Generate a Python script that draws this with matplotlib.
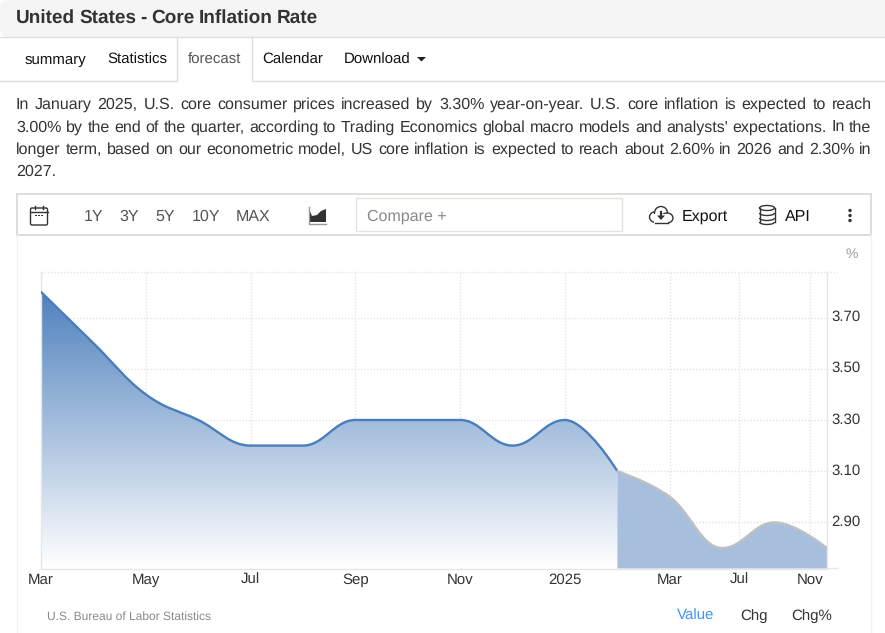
import numpy as np
import matplotlib
matplotlib.use('Agg')
import matplotlib.pyplot as plt
from matplotlib.colors import LinearSegmentedColormap
from matplotlib.patches import Rectangle, FancyBboxPatch, Ellipse, Polygon, Circle, PathPatch, Arc
from matplotlib.path import Path
from matplotlib.transforms import ScaledTranslation

plt.rcParams['font.family'] = ['Liberation Sans', 'DejaVu Sans']
plt.rcParams['text.hinting'] = 'no_hinting'
plt.rcParams['text.hinting_factor'] = 1

# history is monthly, forecast is quarterly and the axis is by category
history_pos = list(range(12))
history_values = [3.8, 3.6, 3.4, 3.3, 3.2, 3.2, 3.3, 3.3, 3.3, 3.2, 3.3, 3.1]
forecast_pos = [11, 12, 13, 14, 15]
forecast_values = [3.1, 3.0, 2.8, 2.9, 2.8]

x_ticks = [0, 2, 4, 6, 8, 10, 12, 13.33, 14.67]
x_labels = ['Mar', 'May', 'Jul', 'Sep', 'Nov', '2025', 'Mar', 'Jul', 'Nov']
y_ticks = [2.9, 3.1, 3.3, 3.5, 3.7]
y_labels = ['2.90', '3.10', '3.30', '3.50', '3.70']

title = 'United States - Core Inflation Rate'
tabs = [('summary', 25), ('Statistics', 107.5), ('forecast', 188), ('Calendar', 262.5), ('Download', 344)]
ranges = [('1Y', 84), ('3Y', 119.5), ('5Y', 155), ('10Y', 192), ('MAX', 236)]
body_lines = [
    'In January 2025, U.S. core consumer prices increased by 3.30% year-on-year. U.S. core inflation is expected to reach',
    "3.00% by the end of the quarter, according to Trading Economics global macro models and analysts' expectations. In the",
    'longer term, based on our econometric model, US core inflation is expected to reach about 2.60% in 2026 and 2.30% in',
    '2027.',
]


def px(n):
    return n * 0.72


def spline_path(xs, ys):
    # same smoothing as the highcharts spline
    left = [None] * len(xs)
    right = [None] * len(xs)
    for i in range(1, len(xs) - 1):
        x, y = xs[i], ys[i]
        lx, ly = xs[i - 1], ys[i - 1]
        nx, ny = xs[i + 1], ys[i + 1]
        lcx = (1.5 * x + lx) / 2.5
        lcy = (1.5 * y + ly) / 2.5
        rcx = (1.5 * x + nx) / 2.5
        rcy = (1.5 * y + ny) / 2.5
        corr = (rcy - lcy) * (rcx - x) / (rcx - lcx) + y - rcy
        lcy += corr
        rcy += corr
        if lcy > ly and lcy > y:
            lcy = max(ly, y)
            rcy = 2 * y - lcy
        elif lcy < ly and lcy < y:
            lcy = min(ly, y)
            rcy = 2 * y - lcy
        if rcy > ny and rcy > y:
            rcy = max(ny, y)
            lcy = 2 * y - rcy
        elif rcy < ny and rcy < y:
            rcy = min(ny, y)
            lcy = 2 * y - rcy
        left[i] = (lcx, lcy)
        right[i] = (rcx, rcy)
    verts = [(xs[0], ys[0])]
    codes = [Path.MOVETO]
    for i in range(1, len(xs)):
        c1 = right[i - 1] or (xs[i - 1], ys[i - 1])
        c2 = left[i] or (xs[i], ys[i])
        verts += [c1, c2, (xs[i], ys[i])]
        codes += [Path.CURVE4] * 3
    return verts, codes


def area_path(xs, ys, base):
    verts, codes = spline_path(xs, ys)
    verts = verts + [(xs[-1], base), (xs[0], base), (xs[0], ys[0])]
    codes = codes + [Path.LINETO, Path.LINETO, Path.CLOSEPOLY]
    return Path(verts, codes)


def fitted_line(text, x, y, width, size, **kw):
    # browser justify: words go one by one, the gaps take up the slack
    words = text.split(' ')
    sizes = []
    for w in words:
        t = page.text(0, 0, w, fontsize=px(size), **kw)
        sizes.append(t.get_window_extent(renderer).width)
        t.remove()
    gap = (width - sum(sizes)) / (len(words) - 1) if len(words) > 1 else 0
    for w, s in zip(words, sizes):
        page.text(x, y, w, fontsize=px(size), va='baseline', **kw)
        x += s + gap


fig = plt.figure(figsize=(8.85, 6.33), dpi=100)

# page furniture, in pixels
page = fig.add_axes([0, 0, 1, 1])
page.set_xlim(0, 885)
page.set_ylim(633, 0)
page.axis('off')
fig.canvas.draw()
renderer = fig.canvas.get_renderer()

border = '#dddddd'
page.add_patch(FancyBboxPatch((0, 0), 905, 37, boxstyle='round,pad=0,rounding_size=8', fc='#f5f5f5', ec='none'))
page.plot([0, 885], [37, 37], color=border, lw=1)
fitted_line(title, 16, 23, 302, 18.7, fontweight='bold', color='#333333')

page.plot([0, 177, 177], [81, 81, 37], color=border, lw=1)
page.plot([252, 252, 885], [37, 81, 81], color=border, lw=1)
for label, x in tabs:
    page.text(x, 64, label, fontsize=px(15), va='baseline', color='#555555' if label == 'forecast' else '#111111')
page.add_patch(Polygon([(417, 57), (426, 57), (421.5, 61.5)], fc='#222222', ec='none'))

for n, line in enumerate(body_lines):
    fitted_line(line, 16, 109 + n * 22.4, 855.5, 16, color='#333333')

# toolbar
page.plot([17, 17], [235, 633], color='#f2f2f2', lw=1)
page.plot([871, 871], [235, 633], color='#f2f2f2', lw=1)
page.add_patch(Rectangle((17, 194), 854, 41, fc='white', ec='#dedede', lw=1.4))
page.add_patch(Rectangle((356, 198), 266, 33, fc='white', ec='#e4e4dc', lw=1))
for label, x in ranges:
    page.text(x, 221, label, fontsize=px(16.2), color='#555555', va='baseline')
page.text(367, 221, 'Compare +', fontsize=px(16.2), color='#888888', va='baseline')
page.text(682, 221, 'Export', fontsize=px(15.8), color='#111111', va='baseline')
page.text(785, 221, 'API', fontsize=px(15.8), color='#111111', va='baseline')

# calendar icon
page.add_patch(FancyBboxPatch((30.5, 208), 17, 17, boxstyle='round,pad=0,rounding_size=1.5', fc='none', ec='#333333', lw=1))
page.plot([30.5, 47.5], [212, 212], color='#333333', lw=1)
page.plot([35, 35], [206, 209], color='#333333', lw=1)
page.plot([43, 43], [206, 209], color='#333333', lw=1)
for x in [36, 39, 42]:
    page.add_patch(Rectangle((x - 0.6, 215), 1.3, 1.3, fc='#333333', ec='none'))

# area icon
page.add_patch(Polygon([(309, 209), (312, 216), (317, 215), (321, 211), (326, 209), (326, 222), (309, 222)], fc='#333333', ec='none'))
page.plot([308.5, 308.5, 326], [207, 223.5, 223.5], color='#999999', lw=1)

# cloud icon
for patch in [Ellipse((656, 217), 13, 11), Circle((661, 213), 6.5), Ellipse((667, 218), 12, 10)]:
    patch.set(fc='white', ec='#333333', lw=1)
    page.add_patch(patch)
page.add_patch(Rectangle((654, 214), 14, 8.5, fc='white', ec='none'))
page.plot([655, 668], [223, 223], color='#333333', lw=1)
page.plot([661, 661], [212, 216], color='#333333', lw=1.6)
page.add_patch(Polygon([(657, 215.5), (665, 215.5), (661, 220)], fc='#333333', ec='none'))

# database icon
page.plot([759.5, 759.5], [208, 222], color='#333333', lw=1)
page.plot([774.5, 774.5], [208, 222], color='#333333', lw=1)
page.add_patch(Ellipse((767, 208), 15, 5, fc='none', ec='#333333', lw=1))
for y in [213, 218, 222]:
    page.add_patch(Arc((767, y), 15, 5, theta1=0, theta2=180, ec='#333333', lw=1))
for y in [210.5, 215.5, 220.5]:
    page.add_patch(Circle((850, y), 1.7, fc='#333333', ec='none'))

page.text(846, 258, '%', fontsize=px(14), color='#999999', va='baseline')
page.text(47, 620, 'U.S. Bureau of Labor Statistics', fontsize=px(12), color='#8a8a8a', va='baseline')
page.text(677, 620, 'Value', fontsize=px(15), color='#3d95ee', va='baseline')
page.text(740, 620, 'Chg', fontsize=px(15), color='#333333', va='baseline')
page.text(791, 620, 'Chg%', fontsize=px(15), color='#333333', va='baseline')

# chart
ax = fig.add_axes([41 / 885, (633 - 568.5) / 633, 786 / 885, 296 / 633])
ax.patch.set_alpha(0)
y_bottom, y_top = 2.72, 3.876
ax.set_xlim(0, 15)
ax.set_ylim(y_bottom, y_top)

grid = '#e4e4e4'
ax.hlines(y_ticks + [y_top], 0, 15.19, color=grid, lw=1, linestyles=(0, (1, 1.3)), clip_on=False, zorder=1)
ax.vlines(x_ticks, y_bottom, y_top, color=grid, lw=1, linestyles=(0, (1, 1.3)), zorder=1)

top_color = '#4f81bd'
cmap = LinearSegmentedColormap.from_list('hist', ['#ffffff', top_color])
gradient = np.linspace(0, 1, 256).reshape(-1, 1)
img = ax.imshow(gradient, cmap=cmap, origin='lower', aspect='auto', zorder=2,
                extent=(0, 11, y_bottom, max(history_values)))
img.set_clip_path(PathPatch(area_path(history_pos, history_values, y_bottom), transform=ax.transData))
ax.add_patch(PathPatch(area_path(forecast_pos, forecast_values, y_bottom), fc='#a7bfdd', ec='none', zorder=2))

verts, codes = spline_path(history_pos, history_values)
ax.add_patch(PathPatch(Path(verts, codes), fc='none', ec='#4a7dbb', lw=1.7, zorder=3, capstyle='round'))
verts, codes = spline_path(forecast_pos, forecast_values)
ax.add_patch(PathPatch(Path(verts, codes), fc='none', ec='#c0c0c0', lw=1.7, zorder=3, capstyle='round'))

ax.set_xlim(0, 15)
ax.set_ylim(y_bottom, y_top)
ax.set_xticks(x_ticks, x_labels)
ax.yaxis.tick_right()
ax.set_yticks(y_ticks, y_labels)
ax.tick_params(axis='x', length=0, pad=3, labelsize=px(15), labelcolor='#333333')
ax.tick_params(axis='y', length=0, pad=3, labelsize=px(15.4), labelcolor='#333333')
# the value labels sit a little above their gridlines
up = ScaledTranslation(0, 2 / 100, fig.dpi_scale_trans)
for label in ax.get_yticklabels():
    label.set_transform(label.get_transform() + up)
ax.spines['top'].set_visible(False)
for name in ['left', 'right', 'bottom']:
    ax.spines[name].set_color('#e6e6e6')
    ax.spines[name].set_linewidth(1)
ax.plot([15, 15.19], [y_bottom, y_bottom], color='#e6e6e6', lw=1, clip_on=False)

fig.savefig('out.png', dpi=100)
